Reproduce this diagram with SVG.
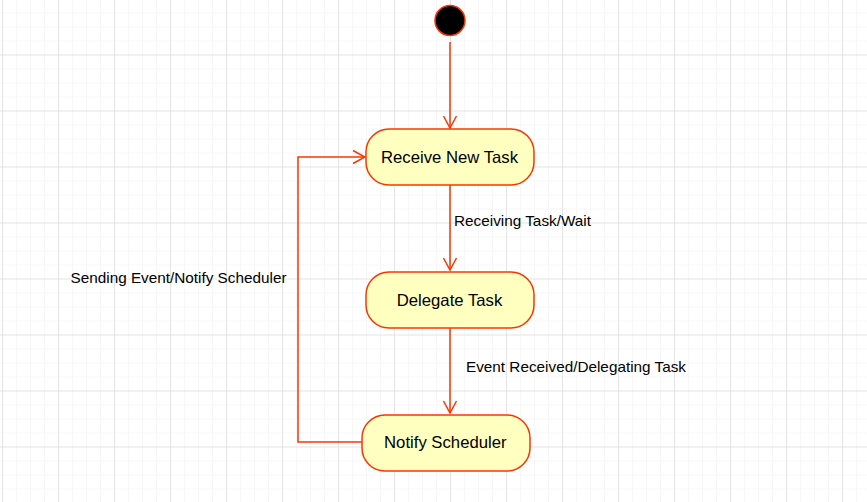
<svg xmlns="http://www.w3.org/2000/svg" width="867" height="502" viewBox="0 0 867 502">
<defs>
<pattern id="minor" x="2" y="-1.5" width="14" height="14" patternUnits="userSpaceOnUse">
<path d="M0 0H14M0 0V14" fill="none" stroke="#f0f0f0" stroke-width="1"/>
</pattern>
<pattern id="major" x="2" y="-1.5" width="56" height="56" patternUnits="userSpaceOnUse">
<path d="M0 0H56M0 0V56" fill="none" stroke="#d4d4d4" stroke-width="1"/>
</pattern>
<marker id="arr" viewBox="0 0 14 16" refX="13" refY="8" markerWidth="14" markerHeight="16" markerUnits="userSpaceOnUse" orient="auto">
<path d="M1 1.5L13 8L1 14.5" fill="none" stroke="#ff3300" stroke-width="1.5"/>
</marker>
</defs>
<style>
.state{fill:#ffffc0;stroke:#ff3300;stroke-width:1.5}
.st{font-family:"Liberation Sans",Arial,sans-serif;font-size:16.5px;fill:#000;text-anchor:middle}
.lbl{font-family:"Liberation Sans",Arial,sans-serif;font-size:15px;fill:#000}
.edge{fill:none;stroke:#ff3300;stroke-width:1.5;marker-end:url(#arr)}
</style>
<rect width="867" height="502" fill="#fff"/>
<rect width="867" height="502" fill="url(#minor)"/>
<rect width="867" height="502" fill="url(#major)"/>
<g id="connectors">
<path class="edge" d="M450 42V128"/>
<path class="edge" d="M450 185V270"/>
<path class="edge" d="M450 328V413"/>
<path class="edge" d="M362 442H298V157H365"/>
<text class="lbl" x="454" y="226" textLength="137" lengthAdjust="spacingAndGlyphs">Receiving Task/Wait</text>
<text class="lbl" x="466" y="372" textLength="220" lengthAdjust="spacingAndGlyphs">Event Received/Delegating Task</text>
<text class="lbl" x="70.5" y="283" textLength="216" lengthAdjust="spacingAndGlyphs">Sending Event/Notify Scheduler</text>
</g>
<g id="start">
<circle cx="450" cy="20.5" r="15" fill="#000" stroke="#ff3300" stroke-width="1.5"/>
</g>
<g id="receive">
<rect class="state" x="366" y="129" width="168" height="56" rx="23"/>
<text class="st" x="449.5" y="163" textLength="137" lengthAdjust="spacingAndGlyphs">Receive New Task</text>
</g>
<g id="delegate">
<rect class="state" x="366" y="272" width="168" height="56" rx="23"/>
<text class="st" x="449.5" y="306" textLength="105.5" lengthAdjust="spacingAndGlyphs">Delegate Task</text>
</g>
<g id="notify">
<rect class="state" x="362" y="415" width="168" height="56" rx="23"/>
<text class="st" x="445.3" y="448" textLength="122.5" lengthAdjust="spacingAndGlyphs">Notify Scheduler</text>
</g>
</svg>
